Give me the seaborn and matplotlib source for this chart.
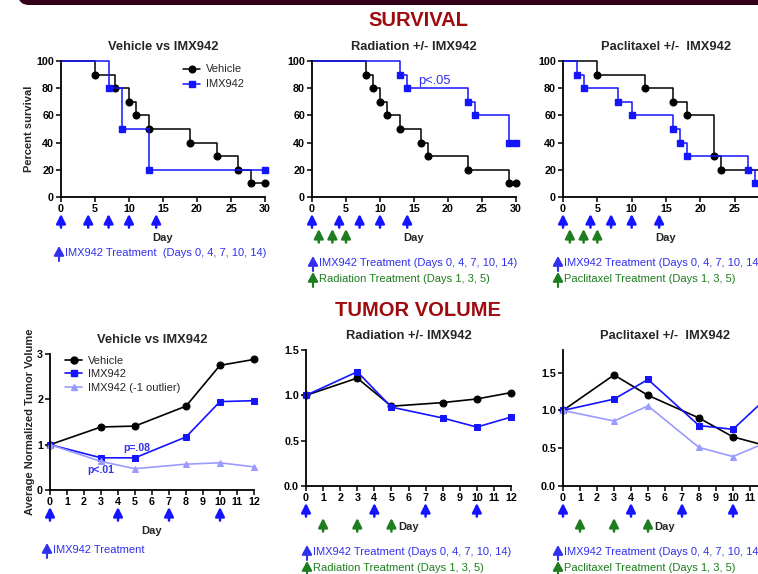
import matplotlib
matplotlib.use('Agg')
import matplotlib.pyplot as plt
import seaborn as sns
from matplotlib import font_manager
from matplotlib.lines import Line2D
from matplotlib.patches import FancyBboxPatch, FancyArrowPatch
from matplotlib.transforms import IdentityTransform

# ---------------- data ----------------
# survival (Kaplan-Meier steps), days / percent survival
veh1_days = [0, 5, 8, 10, 11, 13, 19, 23, 26, 28, 30]
veh1_pct = [100, 90, 80, 70, 60, 50, 40, 30, 20, 10, 10]
imx1_days = [0, 7, 9, 13, 30]
imx1_pct = [100, 80, 50, 20, 20]

veh2_days = [0, 8, 9, 10, 11, 13, 16, 17, 23, 29, 30]
veh2_pct = [100, 90, 80, 70, 60, 50, 40, 30, 20, 10, 10]
imx2_days = [0, 13, 14, 23, 24, 29, 30]
imx2_pct = [100, 90, 80, 70, 60, 40, 40]

veh3_days = [0, 5, 12, 16, 18, 22, 23, 30]
veh3_pct = [100, 90, 80, 70, 60, 30, 20, 20]
imx3_days = [0, 2, 3, 8, 10, 16, 17, 18, 27, 28, 30]
imx3_pct = [100, 90, 80, 70, 60, 50, 40, 30, 20, 10, 10]

# tumor volume
tv_days = [0, 3, 5, 8, 10, 12]
tv1_vehicle = [1.0, 1.39, 1.41, 1.85, 2.75, 2.88]
tv1_imx = [1.0, 0.71, 0.71, 1.17, 1.95, 1.97]
tv1_imx_out = [1.0, 0.63, 0.47, 0.57, 0.60, 0.51]
tv2_vehicle = [1.0, 1.19, 0.88, 0.92, 0.96, 1.03]
tv2_imx = [1.0, 1.26, 0.87, 0.75, 0.65, 0.76]
tv3_vehicle = [1.0, 1.47, 1.20, 0.90, 0.65, 0.53]
tv3_imx = [1.0, 1.15, 1.41, 0.80, 0.75, 1.17]
tv3_imx_out = [1.0, 0.86, 1.06, 0.51, 0.39, 0.58]

imx_treat_days = [0, 4, 7, 10, 14]
rad_treat_days = [1, 3, 5]
ptx_treat_days = [1, 3, 5]

BLUE = '#1414ff'
TXTBLUE = '#3030ee'
LIGHT = '#9b9bff'
GREEN = '#1e7d1e'
RED = '#9e0b0f'

sns.set_style('ticks')
plt.rcParams['font.family'] = ['Liberation Sans', 'DejaVu Sans']

names = {f.name for f in font_manager.fontManager.ttflist}
if 'Liberation Sans Narrow' in names:
    NARROW = dict(family=['Liberation Sans Narrow', 'DejaVu Sans'], size=9.5)
else:
    NARROW = dict(family=['Liberation Sans', 'DejaVu Sans'], size=8)

W, H = 758, 574
fig = plt.figure(figsize=(W / 100, H / 100), dpi=100)


def add_ax(x0, x1, ytop, ybot):
    return fig.add_axes([x0 / W, 1 - ybot / H, (x1 - x0) / W, (ybot - ytop) / H])


def style(ax, xlim, ylim, xticks, yticks, ylabels):
    ax.set_xlim(xlim)
    ax.set_ylim(ylim)
    ax.set_xticks(xticks, labels=[str(t) for t in xticks], fontweight='bold', fontsize=7.7)
    ax.set_yticks(yticks, labels=ylabels, fontweight='bold', fontsize=7.7)
    sns.despine(ax=ax)
    for s in ['left', 'bottom']:
        ax.spines[s].set_linewidth(1.3)
        ax.spines[s].set_color('black')
    ax.tick_params(length=3.5, width=1.1, pad=1.5, colors='black')
    ax.set_xlabel('')
    ax.set_ylabel('')


def km(ax, days, pct, color, marker):
    sns.lineplot(x=days, y=pct, ax=ax, color=color, lw=1.1, drawstyle='steps-post',
                 estimator=None, clip_on=False)
    ax.plot(days[1:], pct[1:], ls='none', marker=marker, ms=4.8, color=color, clip_on=False)


def tv(ax, vals, color, marker, ms):
    sns.lineplot(x=tv_days, y=vals, ax=ax, color=color, lw=1.2, marker=marker, markersize=ms,
                 markeredgecolor=color, estimator=None, clip_on=False)


def arrows(ax, days, color, y0, y1):
    for d in days:
        if d > ax.get_xlim()[1]:
            continue
        ax.annotate('', xy=(d, y1), xytext=(d, y0), xycoords=ax.get_xaxis_transform(),
                    textcoords=ax.get_xaxis_transform(), annotation_clip=False,
                    arrowprops=dict(arrowstyle='-|>,head_length=0.5,head_width=0.25',
                                    color=color, lw=1.8, shrinkA=0, shrinkB=0,
                                    mutation_scale=11))


def key_line(x, y, text, color):
    fig.add_artist(FancyArrowPatch((x / W, 1 - (y + 8) / H), (x / W, 1 - (y - 7) / H),
                                   transform=fig.transFigure, shrinkA=0, shrinkB=0,
                                   arrowstyle='-|>,head_length=0.55,head_width=0.3',
                                   color=color, lw=1.5, mutation_scale=10))
    fig.text((x + 6) / W, 1 - y / H, text, color=color, va='center', ha='left', **NARROW)


def title(ax, text):
    ax.text(0.5, 1.1, text, transform=ax.transAxes, ha='center', va='center',
            fontsize=9.3, fontweight='bold')


def day_label(ax, y):
    ax.text(0.5, y, 'Day', transform=ax.transAxes, ha='center', va='center',
            fontsize=8, fontweight='bold')


# top banner
fig.add_artist(FancyBboxPatch((18, H - 5), 800, 40, boxstyle='round,pad=0,rounding_size=11',
                              transform=IdentityTransform(), fc='#330019', ec='none'))
fig.text(418 / W, 1 - 20 / H, 'SURVIVAL', color=RED, fontsize=14.5, fontweight='bold',
         ha='center', va='center')
fig.text(418 / W, 1 - 310 / H, 'TUMOR VOLUME', color=RED, fontsize=14.5, fontweight='bold',
         ha='center', va='center')

surv_ticks = [0, 5, 10, 15, 20, 25, 30]
pct_ticks = [0, 20, 40, 60, 80, 100]

# ---------------- survival: vehicle vs IMX942 ----------------
ax1 = add_ax(61, 265, 61, 197)
km(ax1, veh1_days, veh1_pct, 'black', 'o')
km(ax1, imx1_days, imx1_pct, BLUE, 's')
style(ax1, (0, 30), (0, 100), surv_ticks, pct_ticks, [str(t) for t in pct_ticks])
title(ax1, 'Vehicle vs IMX942')
ax1.text(-0.155, 0.5, 'Percent survival', transform=ax1.transAxes, rotation=90,
         ha='center', va='center', fontsize=8, fontweight='bold')
handles = [Line2D([], [], color='black', marker='o', ms=4.8, lw=1.1),
           Line2D([], [], color=BLUE, marker='s', ms=4.8, lw=1.1)]
ax1.legend(handles, ['Vehicle', 'IMX942'], loc='upper left', bbox_to_anchor=(0.598, 0.975),
           frameon=False, fontsize=8, handlelength=1.55, handletextpad=0.5, borderpad=0,
           borderaxespad=0, labelspacing=0.45, numpoints=1)
arrows(ax1, imx_treat_days, BLUE, -0.225, -0.125)
day_label(ax1, -0.30)
key_line(59, 253, 'IMX942 Treatment  (Days 0, 4, 7, 10, 14)', TXTBLUE)

# ---------------- survival: radiation ----------------
ax2 = add_ax(312, 516, 61, 197)
km(ax2, veh2_days, veh2_pct, 'black', 'o')
km(ax2, imx2_days, imx2_pct, BLUE, 's')
style(ax2, (0, 30), (0, 100), surv_ticks, pct_ticks, [str(t) for t in pct_ticks])
title(ax2, 'Radiation +/- IMX942')
ax2.text(15.6, 85, 'p<.05', color=TXTBLUE, fontsize=9.3, ha='left', va='center')
arrows(ax2, imx_treat_days, BLUE, -0.225, -0.125)
arrows(ax2, rad_treat_days, GREEN, -0.335, -0.235)
day_label(ax2, -0.30)
key_line(313, 263, 'IMX942 Treatment (Days 0, 4, 7, 10, 14)', TXTBLUE)
key_line(313, 279, 'Radiation Treatment (Days 1, 3, 5)', GREEN)

# ---------------- survival: paclitaxel ----------------
ax3 = add_ax(563, 769, 61, 197)
km(ax3, veh3_days, veh3_pct, 'black', 'o')
km(ax3, imx3_days, imx3_pct, BLUE, 's')
style(ax3, (0, 30), (0, 100), surv_ticks, pct_ticks, [str(t) for t in pct_ticks])
title(ax3, 'Paclitaxel +/-  IMX942')
arrows(ax3, imx_treat_days, BLUE, -0.225, -0.125)
arrows(ax3, ptx_treat_days, GREEN, -0.335, -0.235)
day_label(ax3, -0.30)
key_line(558, 263, 'IMX942 Treatment (Days 0, 4, 7, 10, 14)', TXTBLUE)
key_line(558, 279, 'Paclitaxel Treatment (Days 1, 3, 5)', GREEN)

day_ticks = list(range(0, 13))

# ---------------- tumor: vehicle vs IMX942 ----------------
ax4 = add_ax(50, 254, 354, 490)
tv(ax4, tv1_vehicle, 'black', 'o', 5)
tv(ax4, tv1_imx, BLUE, 's', 5)
tv(ax4, tv1_imx_out, LIGHT, '^', 5)
style(ax4, (0, 12), (0, 3), day_ticks, [0, 1, 2, 3], ['0', '1', '2', '3'])
title(ax4, 'Vehicle vs IMX942')
ax4.text(-0.098, 0.5, 'Average Normalized Tumor Volume', transform=ax4.transAxes, rotation=90,
         ha='center', va='center', fontsize=8, fontweight='bold')
handles = [Line2D([], [], color='black', marker='o', ms=5, lw=1.2),
           Line2D([], [], color=BLUE, marker='s', ms=5, lw=1.2),
           Line2D([], [], color=LIGHT, marker='^', ms=5, lw=1.2)]
ax4.legend(handles, ['Vehicle', 'IMX942', 'IMX942 (-1 outlier)'], loc='upper left',
           bbox_to_anchor=(0.073, 0.985), frameon=False, fontsize=8, handlelength=1.55,
           handletextpad=0.5, borderpad=0, borderaxespad=0, labelspacing=0.3, numpoints=1)
ax4.text(5.1, 0.93, 'p=.08', color=TXTBLUE, fontsize=7.5, fontweight='bold', ha='center', va='center')
ax4.text(3.0, 0.44, 'p<.01', color=TXTBLUE, fontsize=7.5, fontweight='bold', ha='center', va='center')
arrows(ax4, imx_treat_days, BLUE, -0.225, -0.125)
day_label(ax4, -0.30)
key_line(47, 550, 'IMX942 Treatment', TXTBLUE)

# ---------------- tumor: radiation ----------------
ax5 = add_ax(306, 511, 350, 486)
tv(ax5, tv2_vehicle, 'black', 'o', 5)
tv(ax5, tv2_imx, BLUE, 's', 5)
style(ax5, (0, 12), (0, 1.5), day_ticks, [0, 0.5, 1.0, 1.5], ['0.0', '0.5', '1.0', '1.5'])
title(ax5, 'Radiation +/- IMX942')
arrows(ax5, imx_treat_days, BLUE, -0.225, -0.125)
arrows(ax5, rad_treat_days, GREEN, -0.335, -0.235)
day_label(ax5, -0.30)
key_line(307, 552, 'IMX942 Treatment (Days 0, 4, 7, 10, 14)', TXTBLUE)
key_line(307, 568, 'Radiation Treatment (Days 1, 3, 5)', GREEN)

# ---------------- tumor: paclitaxel ----------------
ax6 = add_ax(563, 767, 350, 486)
tv(ax6, tv3_vehicle, 'black', 'o', 5)
tv(ax6, tv3_imx, BLUE, 's', 5)
tv(ax6, tv3_imx_out, LIGHT, '^', 5)
style(ax6, (0, 12), (0, 1.8), day_ticks, [0, 0.5, 1.0, 1.5], ['0.0', '0.5', '1.0', '1.5'])
title(ax6, 'Paclitaxel +/-  IMX942')
arrows(ax6, imx_treat_days, BLUE, -0.225, -0.125)
arrows(ax6, ptx_treat_days, GREEN, -0.335, -0.235)
day_label(ax6, -0.30)
key_line(558, 552, 'IMX942 Treatment (Days 0, 4, 7, 10, 14)', TXTBLUE)
key_line(558, 568, 'Paclitaxel Treatment (Days 1, 3, 5)', GREEN)

fig.savefig('out.png', dpi=100)
